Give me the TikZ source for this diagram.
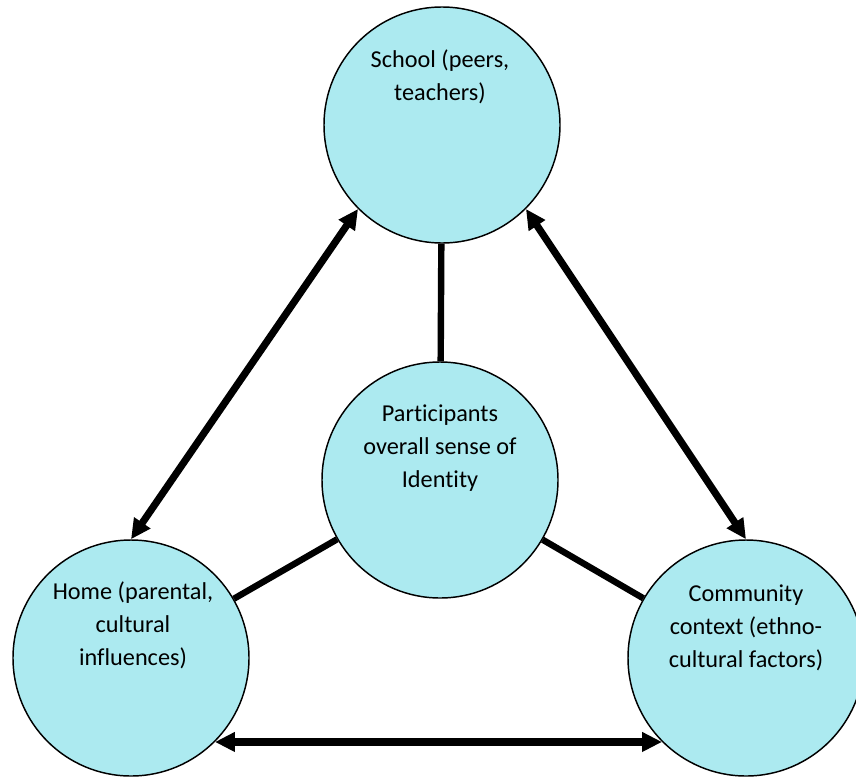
\documentclass[tikz,border=0pt]{standalone}
\usepackage{fontspec}
\setmainfont[RawFeature={-liga;-clig;-dlig}]{Carlito}
\usetikzlibrary{arrows.meta}
\definecolor{bubble}{RGB}{172,234,240}
\begin{document}
\begin{tikzpicture}[x=0.75pt,y=-0.75pt,
  sphere/.style={circle,draw=black,line width=1.1pt,fill=bubble,
    minimum size=177pt,inner sep=0pt},
  caption/.style={anchor=base,align=center,inner sep=0pt,
    font=\fontsize{18.2pt}{24.75pt}\selectfont},
  link/.style={line width=4.8pt},
  twoway/.style={line width=5.4pt,
    {Triangle[length=15pt,width=14pt]}-{Triangle[length=15pt,width=14pt]}}]
  \useasboundingbox (0,0) rectangle (856,778);

  % the four spheres of influence
  \node[sphere] (school) at (442,125) {};
  \node[sphere] (self)   at (440,480) {};
  \node[sphere] (home)   at (131,658) {};
  \node[sphere] (comm)   at (746,658) {};

  % spokes from the centre
  \draw[link] (school) -- (self);
  \draw[link] (home) -- (self);
  \draw[link] (comm) -- (self);

  % two-way relations around the outside
  \draw[twoway] (home.north) -- (school.225);
  \draw[twoway] (school.-45) -- (comm.north);
  \draw[twoway] (home.-45) -- (comm.225);

  % labels (anchored at the baseline of their last line)
  \node[caption] (schooltxt) at (440,100) {School (peers,\\teachers)};
  \node[caption] (selftxt) at (440,487) {Participants\\overall sense of\\Identity};
  \node[caption] (hometxt) at (133,665) {Home (parental,\\cultural\\influences)};
  \node[caption] (commtxt) at (746,667) {Community\\context (ethno-\\cultural factors)};
\end{tikzpicture}
\end{document}
